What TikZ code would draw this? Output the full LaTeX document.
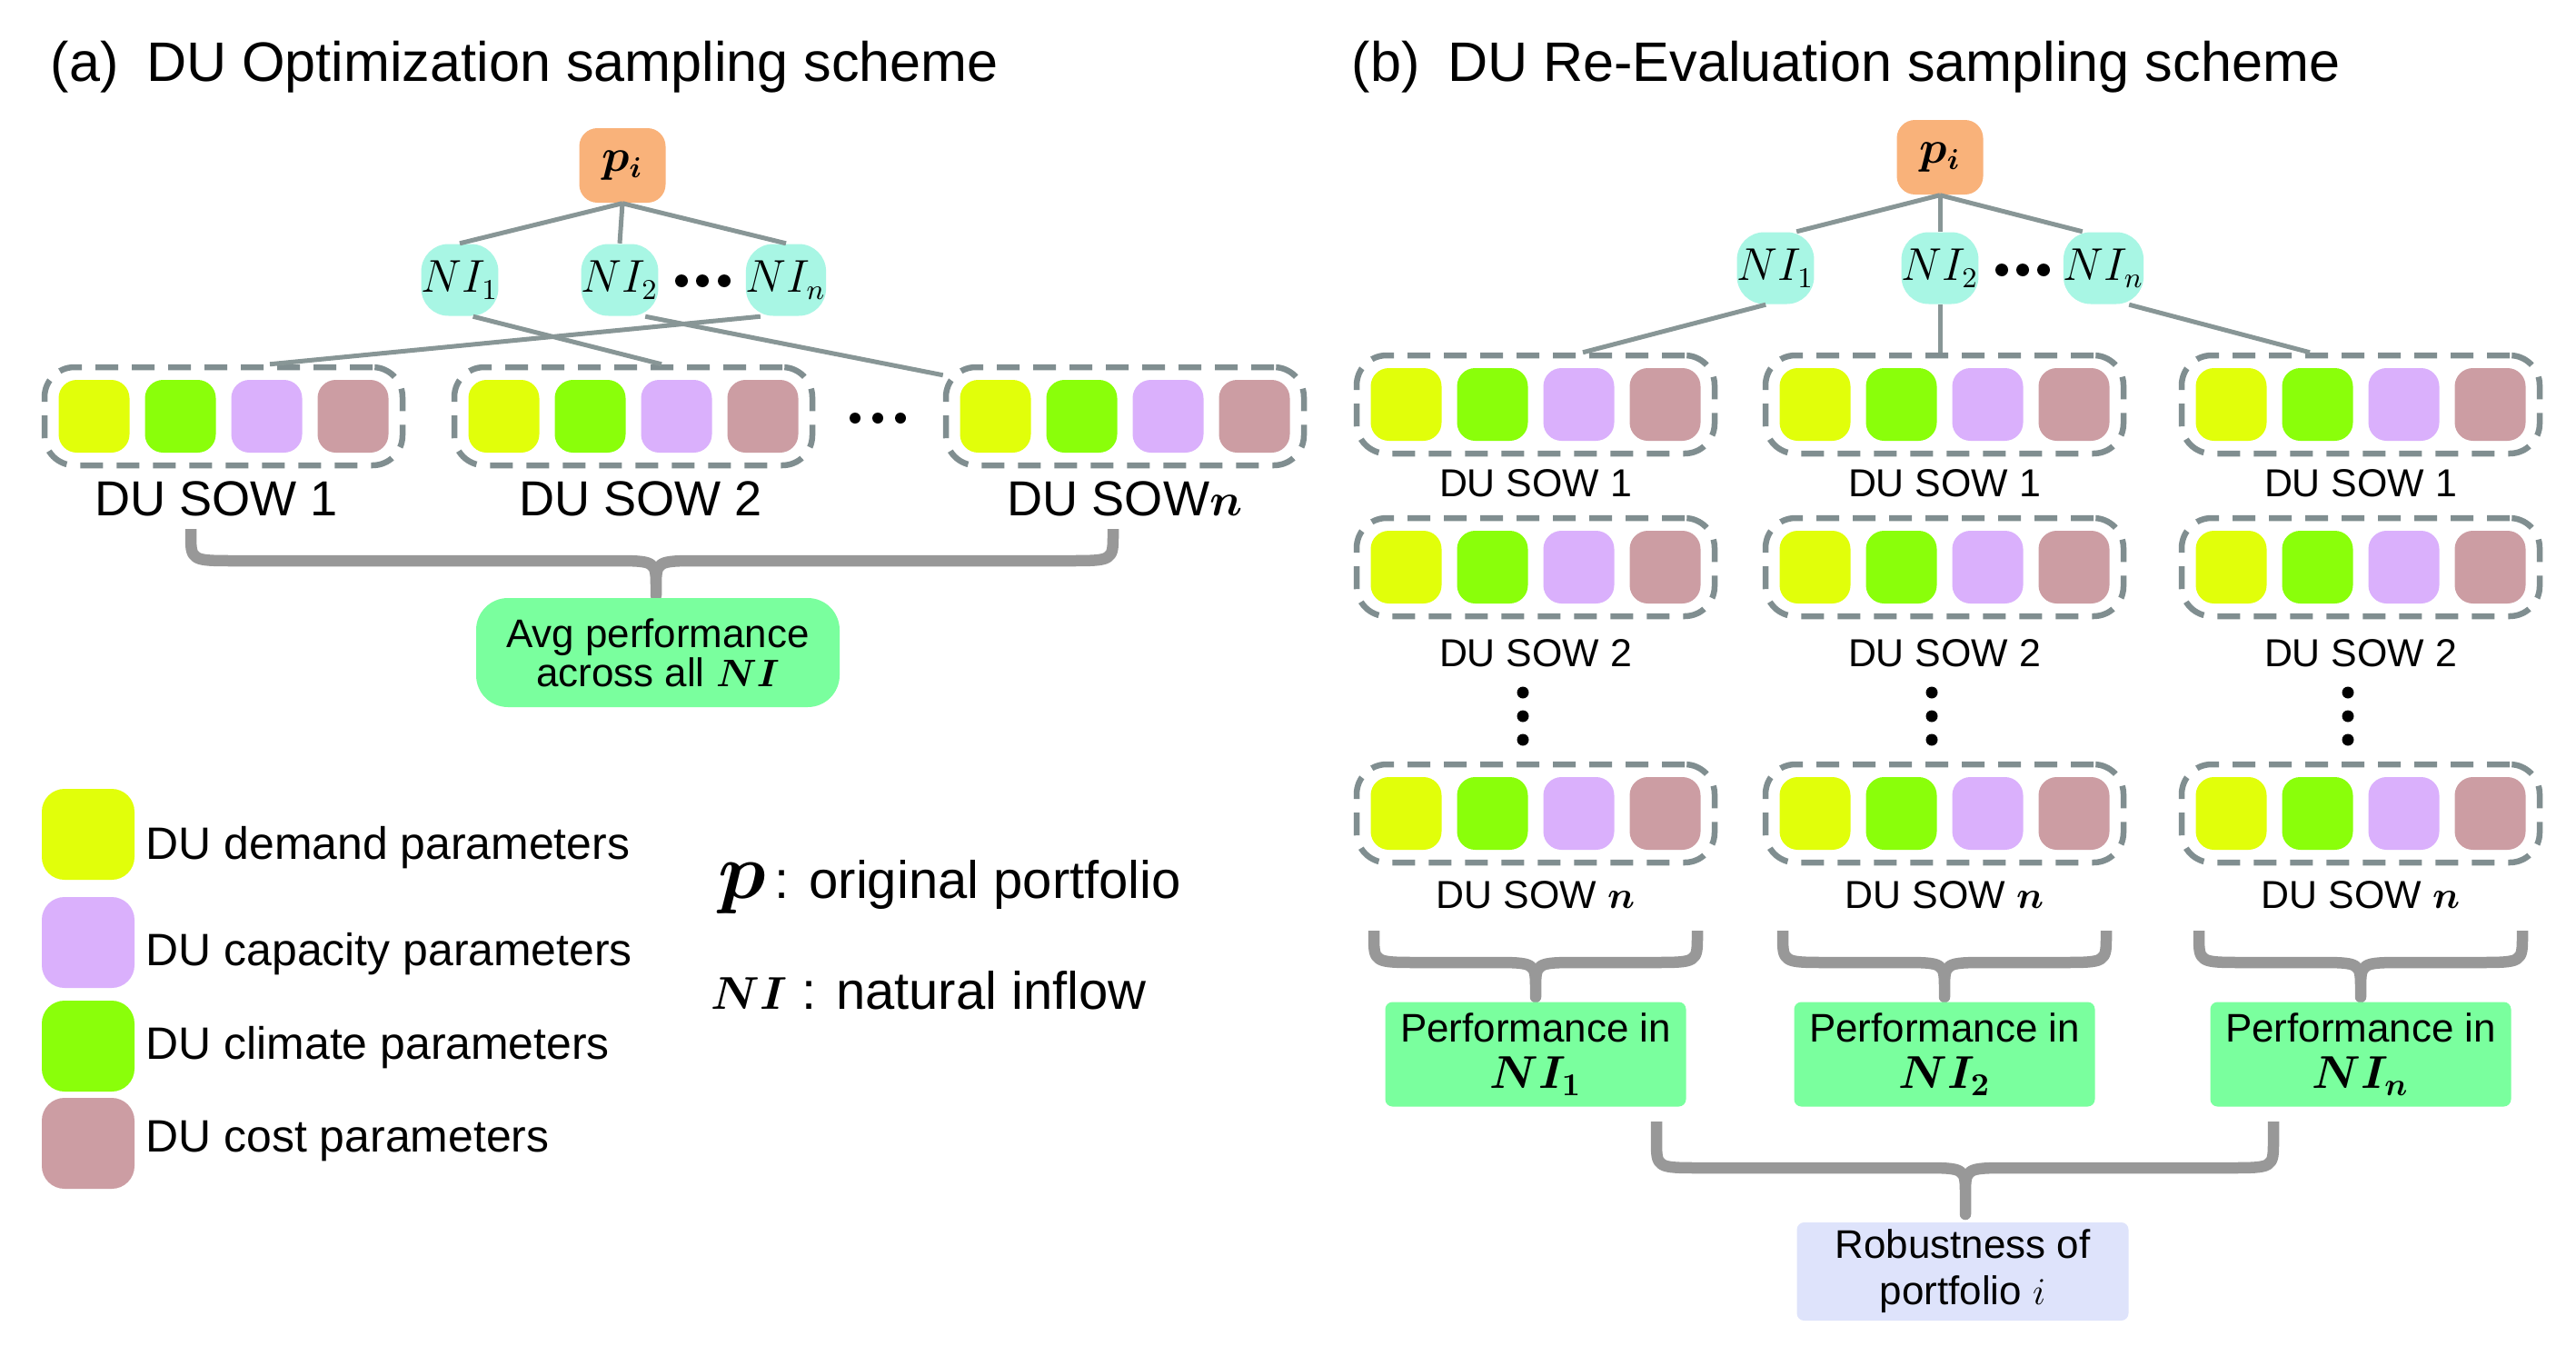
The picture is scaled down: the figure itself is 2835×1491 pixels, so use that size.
\documentclass[tikz,border=0pt]{standalone}
\usepackage{amsmath}
\usepackage[no-math]{fontspec}
\setmainfont{Liberation Sans}
\usetikzlibrary{calc}

\definecolor{corange}{RGB}{249,178,122}
\definecolor{cmint}{RGB}{168,246,228}
\definecolor{cyel}{RGB}{225,255,10}
\definecolor{cgrn}{RGB}{138,255,10}
\definecolor{clav}{RGB}{218,176,252}
\definecolor{crose}{RGB}{204,157,163}
\definecolor{cperf}{RGB}{122,255,158}
\definecolor{crob}{RGB}{222,227,251}
\definecolor{cdash}{RGB}{128,142,144}
\definecolor{clink}{RGB}{136,150,150}
\definecolor{cbrace}{RGB}{152,152,152}

\tikzset{
  every node/.style={inner sep=0pt},
  title/.style={anchor=base west, font=\fontsize{17.4}{20}\selectfont},
  pbox/.style={fill=corange, rounded corners=2mm, minimum width=9.5mm, minimum height=8.2mm, font=\fontsize{13.5}{14}\selectfont},
  nibox/.style={fill=cmint, rounded corners=3mm, minimum width=7.7mm, minimum height=7.9mm, font=\fontsize{13.5}{14}\selectfont},
  sowbox/.style={draw=cdash, line width=0.65mm, dash pattern=on 2.5mm off 1.5mm, rounded corners=3.3mm, minimum width=39.4mm, minimum height=10.8mm},
  parbox/.style={rounded corners=2mm, minimum width=7.8mm, minimum height=8mm},
  sowlabA/.style={anchor=base, font=\fontsize{15.4}{17}\selectfont},
  sowlabB/.style={anchor=base, font=\fontsize{12.2}{14}\selectfont},
  link/.style={draw=clink, line width=0.5mm},
  brace/.style={draw=cbrace, line width=1.25mm, line join=round},
  avgbox/.style={fill=cperf, rounded corners=3.5mm, minimum width=40mm, minimum height=12mm, align=center, font=\fontsize{12.5}{12.3}\selectfont},
  perfbox/.style={fill=cperf, rounded corners=0.8mm, minimum width=33.1mm, minimum height=11.5mm, align=center, font=\fontsize{12.5}{14.5}\selectfont},
  robbox/.style={fill=crob, rounded corners=0.8mm, minimum width=36.5mm, minimum height=10.8mm, align=center, font=\fontsize{12.5}{14.5}\selectfont},
  legbox/.style={rounded corners=2.5mm, minimum width=10.2mm, minimum height=10mm},
  legtxt/.style={anchor=base west, font=\fontsize{14.2}{16}\selectfont},
  keytxt/.style={anchor=base west, font=\fontsize{16.5}{18}\selectfont}
}

\begin{document}
\begin{tikzpicture}[x=0.1mm,y=-0.1mm]

        % x1, tip, x2, top, middle, bottom of a brace
        \def\brc#1#2#3#4#5#6{\draw[brace] (#1,#4) -- (#1,#5-30) .. controls (#1,#5) .. (#1+50,#5) -- (#2-50,#5) .. controls (#2,#5) .. (#2,#5+30) -- (#2,#6) -- (#2,#5+30) .. controls (#2,#5) .. (#2+50,#5) -- (#3-50,#5) .. controls (#3,#5) .. (#3,#5-30) -- (#3,#4);}

        \useasboundingbox[fill=white] (0,0) rectangle (2835,1491);

        \node[title] (titA) at (55,89) {(a)\enspace DU Optimization sampling scheme};
        \node[title] (titB) at (1487,89) {(b)\enspace DU Re-Evaluation sampling scheme};

        % (a) optimization
        \node[pbox] (pA) at (685,182) {$\boldsymbol{p_i}$};
        \node[nibox] (niA1) at (506,308) {$NI_1$};
        \node[nibox] (niA2) at (682,308) {$NI_2$};
        \node[nibox] (niAn) at (865,308) {$NI_n$};
        \foreach \x in {750,773,797} \fill (\x,309) circle (0.7mm);

        \foreach \n/\x in {1/246, 2/697, n/1238} {
            \node[sowbox] (sowA\n) at (\x,458) {};
            \foreach \cl [count=\k] in {cyel,cgrn,clav,crose}
                \node[parbox, fill=\cl] (sowA\n-\k) at (\x+95*\k-237.5,458) {};
        }
        \foreach \x in {941,966,991} \fill (\x,460) circle (0.6mm);

        \node[sowlabA] (labA1) at (238,567) {DU SOW 1};
        \node[sowlabA] (labA2) at (705,567) {DU SOW 2};
        \node[sowlabA] (labAn) at (1238,567) {DU SOW$\boldsymbol{n}$};

        \draw[link] (pA.south) -- (niA1.north);
        \draw[link] (pA.south) -- (niA2.north);
        \draw[link] (pA.south) -- (niAn.north);
        \draw[link] (niA1.-70) -- ($(sowA2.north)+(31,0)$);
        \draw[link] (niA2.-55) -- ($(sowAn.north west)+(0,12)$);
        \draw[link] (niAn.-125) -- ($(sowA1.north)+(51,0)$);

        \brc{210}{722}{1225}{582}{617}{655}
        \node[avgbox] (avg) at (724,718) {Avg performance\\across all $\boldsymbol{NI}$};

        % legend
        \node[legbox, fill=cyel] (leg1) at (97,918) {};
        \node[legbox, fill=clav] (leg2) at (97,1037) {};
        \node[legbox, fill=cgrn] (leg3) at (97,1151) {};
        \node[legbox, fill=crose] (leg4) at (97,1258) {};
        \node[legtxt] (legt1) at (160,945) {DU demand parameters};
        \node[legtxt] (legt2) at (160,1062) {DU capacity parameters};
        \node[legtxt] (legt3) at (160,1165) {DU climate parameters};
        \node[legtxt] (legt4) at (160,1267) {DU cost parameters};
        \node[keytxt] (keyp) at (790,988) {{\fontsize{23}{23}\selectfont$\boldsymbol{p}$}\,: original portfolio};
        \node[keytxt] (keyni) at (782,1110) {{\fontsize{15}{15}\selectfont$\boldsymbol{NI}$} : natural inflow};

        % (b) re-evaluation
        \node[pbox] (pB) at (2135,173) {$\boldsymbol{p_i}$};
        \node[nibox] (niB1) at (1954,295) {$NI_1$};
        \node[nibox] (niB2) at (2135,295) {$NI_2$};
        \node[nibox] (niBn) at (2315,295) {$NI_n$};
        \foreach \x in {2203,2226,2249} \fill (\x,297) circle (0.7mm);

        \foreach \c/\x in {1/1690, 2/2140, 3/2598} {
            \foreach \r/\y/\t/\yl in {1/445/1/546, 2/624/2/733, 3/895/{$\boldsymbol{n}$}/999} {
                \node[sowbox] (sowB\c\r) at (\x,\y) {};
                \foreach \cl [count=\k] in {cyel,cgrn,clav,crose}
                    \node[parbox, fill=\cl] (sowB\c\r-\k) at (\x+95*\k-237.5,\y) {};
                \node[sowlabB] (labB\c\r) at (\x,\yl) {DU SOW \t};
            }
            \foreach \y in {762,788,814} \fill (\x-14,\y) circle (0.65mm);
            \brc{\x-178}{\x}{\x+178}{1024}{1059}{1097}
        }

        \draw[link] (pB.south) -- (niB1.60);
        \draw[link] (pB.south) -- (niB2.north);
        \draw[link] (pB.south) -- (niBn.120);
        \draw[link] (niB1.-105) -- ($(sowB11.north)+(52,0)$);
        \draw[link] (niB2.south) -- (niB2.south |- sowB21.north);
        \draw[link] (niBn.-55) -- ($(sowB31.north)+(-56,0)$);

        \node[perfbox] (perf1) at (1690,1160) {Performance in\\{\fontsize{14}{14}\selectfont$\boldsymbol{NI_1}$}};
        \node[perfbox] (perf2) at (2140,1160) {Performance in\\{\fontsize{14}{14}\selectfont$\boldsymbol{NI_2}$}};
        \node[perfbox] (perfn) at (2598,1160) {Performance in\\{\fontsize{14}{14}\selectfont$\boldsymbol{NI_n}$}};

        \brc{1823}{2163}{2502}{1234}{1285}{1336}
        \node[robbox] (rob) at (2160,1399) {Robustness of\\portfolio $i$};

    \end{tikzpicture}
\end{document}
